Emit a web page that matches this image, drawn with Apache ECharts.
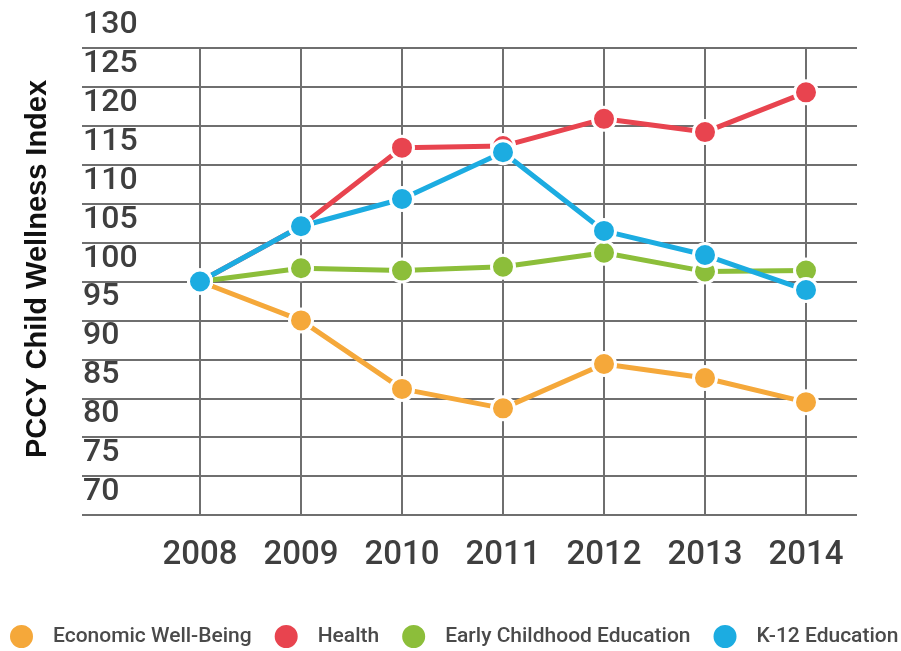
<!DOCTYPE html>
<html>
<head>
<meta charset="utf-8">
<script src="https://cdn.jsdelivr.net/npm/echarts@6/dist/echarts.min.js"></script>
<style>
  html, body { margin: 0; padding: 0; background: #fff; }
  #chart { width: 901px; height: 651px; }
</style>
</head>
<body>
<div id="chart"></div>
<script>
// Years on the horizontal axis
const years = ['2008', '2009', '2010', '2011', '2012', '2013', '2014'];

// Index values per domain
const economic = [95, 90.0, 81.2, 78.7, 84.4, 82.6, 79.5];
const health = [95, 102.1, 112.2, 112.4, 115.9, 114.2, 119.3];
const earlyChildhood = [95, 96.7, 96.4, 96.9, 98.7, 96.3, 96.4];
const k12 = [95, 102.1, 105.6, 111.6, 101.5, 98.4, 93.9];

// Tick labels on the vertical axis
const yTickLabels = ['70', '75', '80', '85', '90', '95', '100', '105', '110', '115', '120', '125', '130'];

const seriesNames = ['Economic Well-Being', 'Health', 'Early Childhood Education', 'K-12 Education'];
const seriesColors = ['#F5A83A', '#E8444F', '#8CBE3A', '#1CACE1'];
const seriesData = [economic, health, earlyChildhood, k12];

const chart = echarts.init(document.getElementById('chart'));

const gridColor = '#6f6f6f';
const labelColor = '#3f3f3f';

const option = {
  backgroundColor: '#fff',
  animation: false,
  graphic: [
    {
      type: 'text',
      x: 38,
      y: 269,
      rotation: Math.PI / 2,
      style: {
        text: 'PCCY Child Wellness Index',
        fontFamily: 'Liberation Sans',
        fontWeight: 'bold',
        fontSize: 29,
        fill: '#111',
        align: 'center',
        verticalAlign: 'middle'
      }
    }
  ],
  grid: [
    // 0: tick label column (each label sits just below its value)
    { left: 82, right: 44, top: 9, bottom: 136 },
    // 1: horizontal rules spanning the full width
    { left: 82, right: 44, top: 48, bottom: 136 },
    // 2: plotting area for the lines
    { left: 200, right: 95, top: 48, bottom: 136 }
  ],
  xAxis: [
    { gridIndex: 0, type: 'value', show: false },
    { gridIndex: 1, type: 'value', show: false },
    {
      gridIndex: 2,
      type: 'category',
      data: years,
      boundaryGap: false,
      axisLine: { show: false },
      axisTick: { show: false },
      axisLabel: {
        margin: 24,
        fontFamily: 'Roboto',
        fontWeight: 500,
        fontSize: 33,
        color: labelColor
      },
      splitLine: { show: true, lineStyle: { color: gridColor, width: 2 } }
    }
  ],
  yAxis: [
    {
      gridIndex: 0,
      type: 'value',
      min: 65,
      max: 130,
      interval: 5,
      axisLine: { show: false },
      axisTick: { show: false },
      splitLine: { show: false },
      axisLabel: {
        align: 'left',
        margin: -1,
        verticalAlign: 'top',
        fontFamily: 'Roboto',
        fontWeight: 500,
        fontSize: 32,
        color: labelColor,
        formatter: function (v) {
          const s = String(v);
          return yTickLabels.indexOf(s) >= 0 ? s : '';
        }
      }
    },
    {
      gridIndex: 1,
      type: 'value',
      min: 65,
      max: 125,
      interval: 5,
      axisLine: { show: false },
      axisTick: { show: false },
      axisLabel: { show: false },
      splitLine: { show: true, lineStyle: { color: gridColor, width: 2 } }
    },
    {
      gridIndex: 2,
      type: 'value',
      min: 65,
      max: 125,
      interval: 5,
      show: false,
      splitLine: { show: false }
    }
  ],
  legend: {
    left: 8,
    top: 623,
    width: 1000,
    padding: 0,
    icon: 'circle',
    itemWidth: 25,
    itemHeight: 25,
    itemGap: 21,
    data: seriesNames,
    textStyle: {
      fontFamily: 'Roboto',
      fontWeight: 500,
      fontSize: 21,
      color: '#4a4a4a',
      padding: [0, 0, 0, 14]
    }
  },
  series: seriesNames.map(function (name, i) {
    return {
      name: name,
      type: 'line',
      xAxisIndex: 2,
      yAxisIndex: 2,
      data: seriesData[i],
      symbol: 'circle',
      symbolSize: 23,
      color: seriesColors[i],
      lineStyle: { width: 5, color: seriesColors[i] },
      itemStyle: { color: seriesColors[i], borderColor: '#fff', borderWidth: 3 },
      emphasis: { disabled: true }
    };
  })
};

chart.setOption(option);
</script>
</body>
</html>
